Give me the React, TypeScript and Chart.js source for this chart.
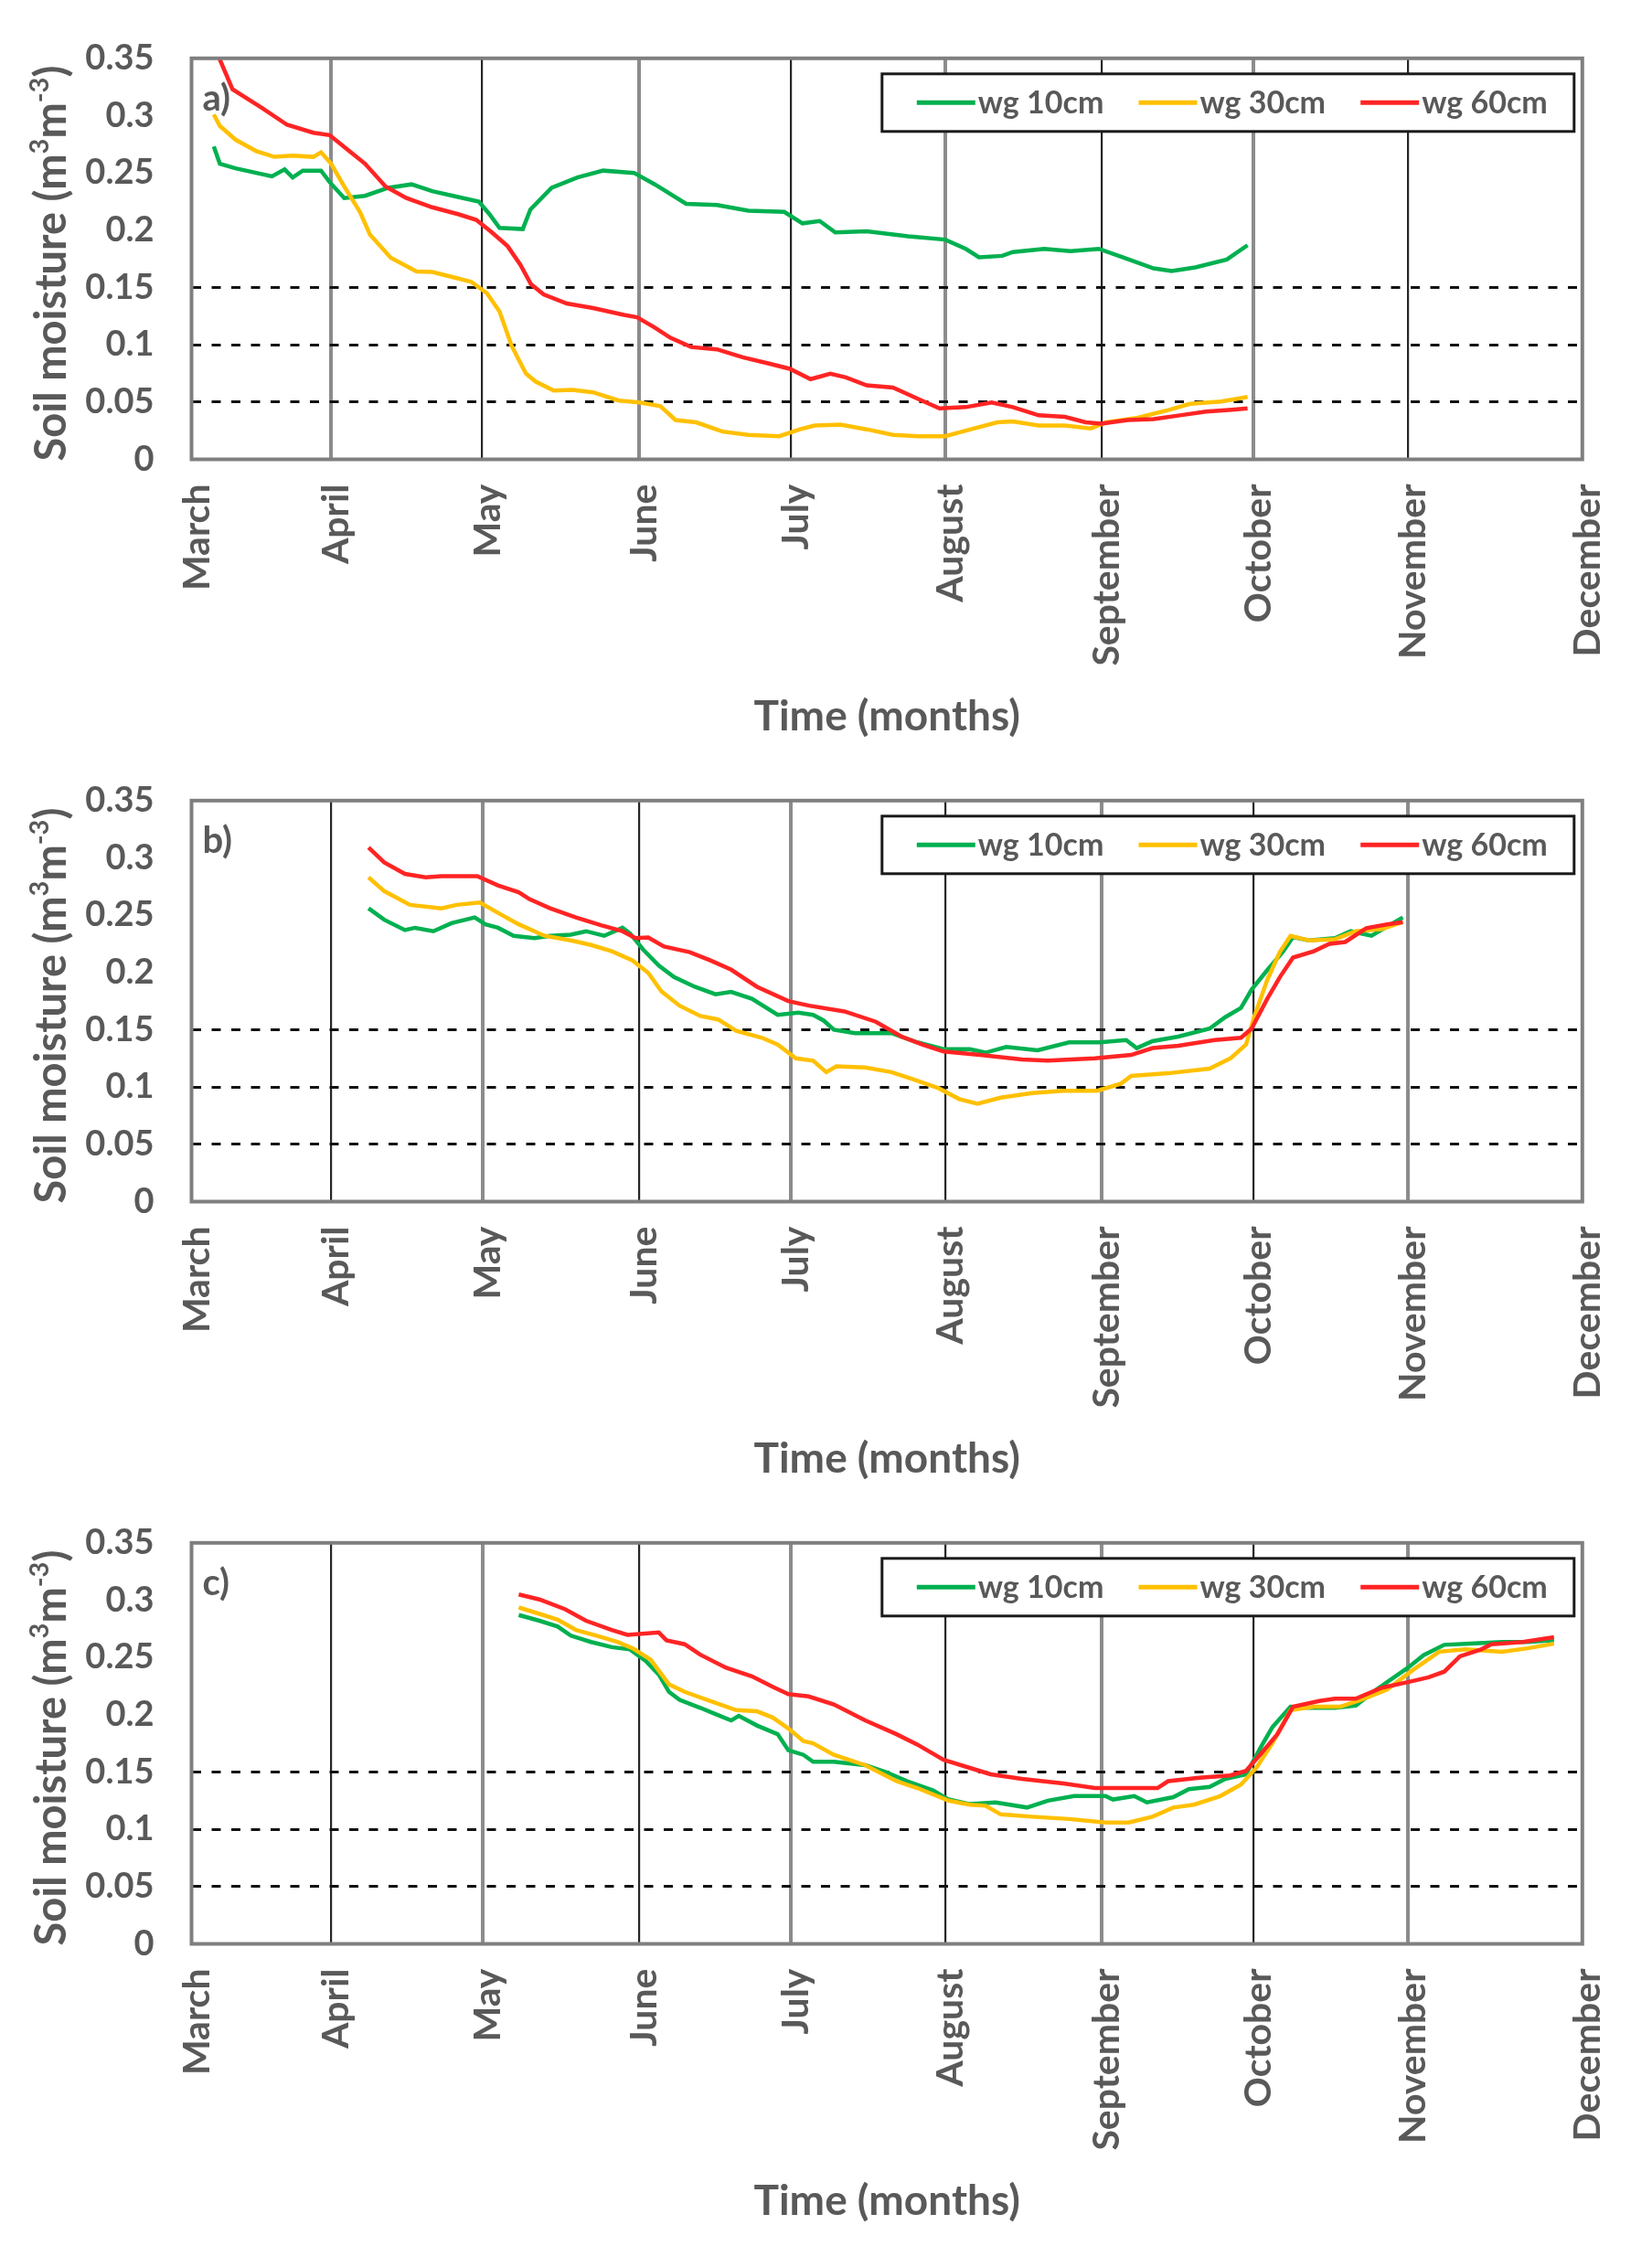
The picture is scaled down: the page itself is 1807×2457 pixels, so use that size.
import { useEffect, useRef } from "react"
import { Chart, registerables } from "chart.js"

Chart.register(...registerables)

if (typeof document !== "undefined") {
  document.body.style.margin = "0"
  document.body.style.background = "#ffffff"
}

const FONT = "Lato, 'Open Sans', sans-serif"
const TEXT_COLOR = "#595959"

const monthLabels = ["March", "April", "May", "June", "July", "August", "September", "October", "November", "December"]
// where each month gridline sits on the time axis (days counted from the March line)
const monthTicks = [0, 27.5, 57.5, 88.5, 118.5, 149, 180, 210, 240.5, 275]
const yTicks = [0, 0.05, 0.1, 0.15, 0.2, 0.25, 0.3, 0.35]
const dashedLevels = [0.05, 0.1, 0.15]

const seriesLabels = ["wg 10cm", "wg 30cm", "wg 60cm"]
const seriesColors = ["#00B050", "#FFC000", "#FF2424"]

// ---- panel a)
const aDays10 = [4.4, 5.6, 8.7, 15.9, 18.4, 20, 22, 25.6, 27.3, 30.2, 34.3, 38.9, 43.5, 47.6, 51.7, 56.8, 58.9, 60.9, 65.5, 67, 71.2, 76.3, 81.4, 87.5, 91.6, 97.8, 103.9, 110.1, 117.2, 120.8, 124.2, 127.3, 133.5, 141.7, 149, 153.1, 155.7, 160.3, 162.4, 168.6, 173.8, 179.4, 185.1, 190.2, 193.8, 198.5, 204.7, 208.8]
const aWg10 = [0.273, 0.258, 0.254, 0.247, 0.253, 0.246, 0.252, 0.252, 0.242, 0.228, 0.23, 0.237, 0.24, 0.234, 0.23, 0.225, 0.214, 0.202, 0.201, 0.218, 0.237, 0.246, 0.252, 0.25, 0.24, 0.223, 0.222, 0.217, 0.216, 0.206, 0.208, 0.198, 0.199, 0.1946, 0.1918, 0.1837, 0.1764, 0.1776, 0.1809, 0.1837, 0.1817, 0.1837, 0.1748, 0.1667, 0.1643, 0.1675, 0.1744, 0.1869]
const aDays30 = [4.4, 5.6, 8.7, 12.8, 16.4, 20, 24.1, 25.6, 27.6, 30.2, 33.3, 35.3, 39.4, 44.5, 47.6, 51.7, 55.3, 58.4, 60.9, 63.3, 66.1, 68, 71.6, 75.3, 79.4, 84.5, 88.6, 92.7, 95.7, 99.8, 105, 110.1, 116.2, 120.3, 123.2, 128.3, 133.5, 138.7, 143.8, 149, 154.1, 159.3, 162.4, 167.5, 172.7, 177.8, 180.9, 187.1, 193.3, 197.4, 203.6, 208.8]
const aWg30 = [0.301, 0.291, 0.279, 0.269, 0.264, 0.265, 0.264, 0.268, 0.258, 0.238, 0.216, 0.196, 0.176, 0.164, 0.1635, 0.159, 0.155, 0.145, 0.129, 0.099, 0.075, 0.068, 0.06, 0.0606, 0.0585, 0.0513, 0.0497, 0.0464, 0.0343, 0.0323, 0.0242, 0.0214, 0.0202, 0.0262, 0.0295, 0.0303, 0.0262, 0.0214, 0.0202, 0.0202, 0.0262, 0.0323, 0.0331, 0.0295, 0.0295, 0.027, 0.0323, 0.0363, 0.0432, 0.0484, 0.0505, 0.0545]
const aDays60 = [3.5, 5.5, 8.1, 13.8, 18.9, 24.1, 27.3, 31.2, 34.3, 38.4, 42.5, 47.6, 52.7, 56.3, 59.4, 62.5, 65, 67.1, 69.6, 74.2, 79.4, 85.5, 88.1, 91.6, 94.7, 98.8, 103.9, 109, 114.2, 118.3, 122.4, 126.3, 129.4, 133.5, 138.7, 143.8, 147.9, 153.1, 158.2, 162.4, 167.5, 172.7, 176.8, 179.9, 185.1, 190.2, 195.4, 200.6, 205.7, 208.8]
const aWg60 = [0.362, 0.35, 0.323, 0.307, 0.292, 0.285, 0.283, 0.269, 0.258, 0.238, 0.228, 0.22, 0.214, 0.209, 0.198, 0.186, 0.17, 0.153, 0.144, 0.136, 0.132, 0.126, 0.124, 0.115, 0.106, 0.098, 0.096, 0.089, 0.0836, 0.079, 0.07, 0.0747, 0.0715, 0.0646, 0.0626, 0.0525, 0.0444, 0.0456, 0.0497, 0.0456, 0.0384, 0.0371, 0.0323, 0.0311, 0.0343, 0.0351, 0.0384, 0.0416, 0.0432, 0.0444]

// ---- panel b)
const bDays10 = [35, 38.1, 42.2, 44.2, 47.8, 51.4, 56, 58.1, 60.6, 63.7, 67.8, 70.9, 75, 78, 81.6, 85.2, 86.7, 89.3, 92.4, 95.4, 99.5, 103.6, 106.7, 110.8, 115.9, 120, 122.9, 125, 127, 131.2, 138.4, 143.5, 148.7, 153.9, 157, 161.1, 167.3, 173.5, 179.6, 184.8, 186.9, 190, 195.1, 201.3, 204.4, 207.5, 209.6, 212.7, 215.8, 217.8, 220.9, 226.1, 229.2, 233.3, 236.4, 239.5]
const bWg10 = [0.256, 0.246, 0.237, 0.239, 0.236, 0.243, 0.248, 0.242, 0.239, 0.232, 0.23, 0.232, 0.233, 0.236, 0.232, 0.239, 0.234, 0.22, 0.206, 0.196, 0.1875, 0.181, 0.183, 0.177, 0.163, 0.165, 0.163, 0.158, 0.15, 0.147, 0.147, 0.139, 0.133, 0.133, 0.13, 0.135, 0.132, 0.139, 0.139, 0.141, 0.134, 0.14, 0.144, 0.151, 0.161, 0.169, 0.185, 0.202, 0.218, 0.231, 0.228, 0.23, 0.236, 0.232, 0.24, 0.248]
const bDays30 = [35, 38.1, 43.2, 49.4, 52.4, 57, 60.6, 64.7, 69.8, 75, 79, 83.1, 87.2, 90.3, 92.9, 96.5, 100.6, 104.1, 107.7, 112.8, 115.9, 119.5, 122.9, 125.5, 127.5, 133.2, 138.4, 142.5, 147.7, 151.8, 155.4, 160, 166.2, 172.4, 179.1, 183.8, 185.8, 193.1, 201.3, 205.4, 208.5, 210.1, 212.7, 215.2, 217.3, 220.9, 226.1, 230.2, 235.4, 239.5]
const bWg30 = [0.283, 0.271, 0.259, 0.256, 0.259, 0.261, 0.252, 0.242, 0.232, 0.228, 0.224, 0.2185, 0.2105, 0.1996, 0.1835, 0.171, 0.162, 0.159, 0.149, 0.143, 0.137, 0.125, 0.123, 0.113, 0.118, 0.117, 0.113, 0.107, 0.099, 0.0895, 0.0855, 0.0907, 0.0948, 0.0968, 0.0968, 0.103, 0.1097, 0.112, 0.116, 0.125, 0.137, 0.161, 0.1935, 0.218, 0.232, 0.228, 0.229, 0.236, 0.238, 0.244]
const bDays60 = [35, 38.1, 42.2, 46.3, 49.4, 56.5, 60.6, 64.7, 66.8, 70.9, 76, 81.1, 85.2, 87.8, 90.3, 93.4, 98.5, 102.6, 106.7, 111.8, 118, 122.1, 129.1, 135.3, 140.4, 144.6, 148.7, 155.9, 164.2, 169.3, 178.6, 185.8, 190, 195.1, 202.3, 207.5, 209.6, 212.7, 215.2, 217.8, 221.9, 225, 228.1, 232.3, 236.4, 239.5]
const bWg60 = [0.309, 0.296, 0.286, 0.283, 0.284, 0.284, 0.276, 0.27, 0.264, 0.256, 0.248, 0.241, 0.236, 0.23, 0.2306, 0.2226, 0.2177, 0.2105, 0.2024, 0.1875, 0.175, 0.171, 0.166, 0.157, 0.144, 0.137, 0.131, 0.128, 0.124, 0.123, 0.125, 0.128, 0.134, 0.136, 0.141, 0.143, 0.151, 0.177, 0.196, 0.213, 0.2185, 0.225, 0.2266, 0.2387, 0.242, 0.244]

// ---- panel c)
const cDays10 = [64.7, 68.8, 72.4, 75, 79, 83.1, 86.7, 89.8, 92.4, 94.4, 96.5, 100.6, 103.6, 106.7, 108.2, 111.8, 115.9, 118, 121, 122.9, 127, 133.2, 137.3, 141.5, 146.6, 149.7, 153.9, 159, 165.2, 169.3, 174.5, 180.7, 182.2, 186.4, 188.9, 194.1, 197.2, 201.3, 204.4, 208.5, 211.6, 213.7, 217.3, 220.9, 226.1, 230.2, 234.3, 240.5, 243.6, 247.7, 252.9, 259.1, 264.2, 269.4]
const cWg10 = [0.287, 0.282, 0.277, 0.269, 0.2635, 0.259, 0.257, 0.247, 0.235, 0.22, 0.213, 0.206, 0.2005, 0.195, 0.199, 0.1906, 0.183, 0.169, 0.165, 0.159, 0.159, 0.156, 0.15, 0.142, 0.134, 0.126, 0.122, 0.1235, 0.119, 0.125, 0.129, 0.129, 0.126, 0.129, 0.1235, 0.128, 0.135, 0.137, 0.144, 0.148, 0.173, 0.189, 0.207, 0.206, 0.206, 0.208, 0.222, 0.241, 0.252, 0.261, 0.262, 0.2635, 0.2635, 0.265]
const cDays30 = [64.7, 68.8, 72.4, 76, 80.1, 84.2, 87.2, 90.8, 94.4, 97.5, 102.6, 107.7, 111.8, 114.9, 118, 121, 122.9, 127, 133.2, 139.4, 143.5, 149.7, 153.9, 157, 160, 166.2, 173.5, 180.7, 185.3, 190, 194.1, 198.2, 203.4, 207.5, 210.6, 213.7, 217.3, 221.9, 227.1, 231.2, 236.4, 241.5, 246.7, 251.9, 259.1, 264.2, 269.4]
const cWg30 = [0.2936, 0.288, 0.283, 0.274, 0.269, 0.2635, 0.258, 0.248, 0.2265, 0.22, 0.212, 0.204, 0.203, 0.1976, 0.188, 0.177, 0.175, 0.165, 0.156, 0.142, 0.136, 0.125, 0.1215, 0.1206, 0.113, 0.111, 0.109, 0.106, 0.106, 0.111, 0.119, 0.1215, 0.129, 0.139, 0.154, 0.175, 0.204, 0.207, 0.207, 0.213, 0.222, 0.239, 0.255, 0.257, 0.255, 0.258, 0.262]
const cDays60 = [64.7, 68.8, 73.9, 78, 83.1, 86.2, 92.4, 93.9, 97.5, 100.6, 105.7, 110.8, 114.9, 118, 122, 127, 133.2, 139.4, 143.5, 148.7, 153.9, 158, 164.2, 172.4, 178.6, 184.8, 191, 193.1, 199.3, 205.4, 208.5, 211.6, 214.7, 217.8, 223, 226.1, 230.2, 235.4, 240.5, 244.6, 247.7, 250.8, 255, 257, 263.2, 269.4]
const cWg60 = [0.305, 0.3006, 0.292, 0.282, 0.274, 0.2697, 0.2718, 0.265, 0.2615, 0.2524, 0.241, 0.2335, 0.2244, 0.218, 0.216, 0.209, 0.195, 0.183, 0.174, 0.1606, 0.1536, 0.148, 0.144, 0.14, 0.136, 0.136, 0.136, 0.142, 0.145, 0.147, 0.151, 0.1668, 0.183, 0.207, 0.212, 0.214, 0.214, 0.2236, 0.2285, 0.2326, 0.2376, 0.251, 0.257, 0.2615, 0.2635, 0.2676]

const PANEL_H = 812

interface PanelProps {
  letter: string
  top: number
  days: number[][]
  values: number[][]
  grayOnOdd: boolean // which month lines come out as thick grey ones
}

function Panel({ letter, top, days, values, grayOnOdd }: PanelProps) {
  const canvasRef = useRef<HTMLCanvasElement>(null)

  useEffect(() => {
    if (!canvasRef.current) return

    const decorations = {
      id: "decorations",
      afterDatasetsDraw(chart: Chart) {
        const { ctx, chartArea } = chart
        const { left, top, right, bottom } = chartArea
        ctx.save()
        ctx.strokeStyle = "#7f7f7f"
        ctx.lineWidth = 4
        ctx.strokeRect(left, top, right - left, bottom - top)
        ctx.restore()
      },
      afterDraw(chart: Chart) {
        const { ctx, chartArea } = chart
        const { left, top, right, bottom } = chartArea
        ctx.save()

        // panel letter
        ctx.fillStyle = TEXT_COLOR
        ctx.font = `bold 40px ${FONT}`
        ctx.textAlign = "left"
        ctx.textBaseline = "middle"
        ctx.fillText(letter, left + 12, top + 44)

        // legend box
        const bw = 757
        const bh = 63
        const bx = right - 9 - bw
        const by = top + 17
        ctx.fillStyle = "#ffffff"
        ctx.fillRect(bx, by, bw, bh)
        ctx.strokeStyle = "#1a1a1a"
        ctx.lineWidth = 3
        ctx.strokeRect(bx, by, bw, bh)
        chart.data.datasets.forEach((ds: any, i: number) => {
          const x0 = bx + 38 + i * 242.7
          const cy = by + bh / 2
          ctx.strokeStyle = ds.borderColor
          ctx.lineWidth = 5
          ctx.beginPath()
          ctx.moveTo(x0, cy)
          ctx.lineTo(x0 + 64, cy)
          ctx.stroke()
          ctx.fillStyle = TEXT_COLOR
          ctx.font = `bold 34px ${FONT}`
          ctx.textBaseline = "middle"
          ctx.fillText(ds.label, x0 + 67, cy + 1)
        })

        // y axis title with real superscripts
        const parts: [string, boolean][] = [
          ["Soil moisture (m", false],
          ["3", true],
          ["m", false],
          ["-3", true],
          [")", false],
        ]
        const mainFont = `bold 47px ${FONT}`
        const supFont = `bold 29px ${FONT}`
        let total = 0
        parts.forEach(([t, sup]) => {
          ctx.font = sup ? supFont : mainFont
          total += ctx.measureText(t).width
        })
        ctx.translate(56, (top + bottom) / 2 + 5)
        ctx.rotate(-Math.PI / 2)
        ctx.textAlign = "left"
        ctx.textBaseline = "alphabetic"
        ctx.fillStyle = TEXT_COLOR
        let x = -total / 2
        parts.forEach(([t, sup]) => {
          ctx.font = sup ? supFont : mainFont
          ctx.fillText(t, x, sup ? -3 : 16)
          x += ctx.measureText(t).width
        })
        ctx.restore()
      },
    }

    const chart = new Chart(canvasRef.current, {
      type: "line",
      data: {
        datasets: seriesLabels.map((label, i) => ({
          label,
          data: days[i].map((d, j) => ({ x: d, y: values[i][j] })),
          borderColor: seriesColors[i],
          backgroundColor: seriesColors[i],
          borderWidth: 4.5,
          pointRadius: 0,
          tension: 0,
          fill: false,
          order: 3 - i,
        })),
      },
      options: {
        responsive: true,
        maintainAspectRatio: false,
        animation: false,
        events: [],
        layout: { padding: { left: 0, top: 60, right: 57, bottom: 0 } },
        scales: {
          x: {
            type: "linear",
            min: monthTicks[0],
            max: monthTicks[monthTicks.length - 1],
            afterBuildTicks: (scale: any) => {
              scale.ticks = monthTicks.map((v) => ({ value: v }))
            },
            afterFit: (scale: any) => {
              scale.height = PANEL_H - 502.5
            },
            ticks: {
              autoSkip: false,
              minRotation: 90,
              maxRotation: 90,
              padding: 27,
              labelOffset: 6,
              color: TEXT_COLOR,
              font: { family: FONT, size: 41, weight: "bold" },
              callback: (_v: any, index: number) => monthLabels[index],
            },
            grid: {
              drawTicks: false,
              color: (ctx: any) => {
                const i = ctx.index
                if (i === 0 || i === monthTicks.length - 1) return "rgba(0,0,0,0)"
                const gray = grayOnOdd ? i % 2 === 1 : i % 2 === 0
                return gray ? "#8c8c8c" : "#262626"
              },
              lineWidth: (ctx: any) => {
                const i = ctx.index
                const gray = grayOnOdd ? i % 2 === 1 : i % 2 === 0
                return gray ? 4 : 2.2
              },
            },
            border: { display: false },
            title: {
              display: true,
              text: "Time (months)",
              color: TEXT_COLOR,
              font: { family: FONT, size: 46, weight: "bold" },
              padding: { top: 12, bottom: 0 },
            },
          },
          y: {
            min: 0,
            max: 0.35,
            afterBuildTicks: (scale: any) => {
              scale.ticks = yTicks.map((v) => ({ value: v }))
            },
            afterFit: (scale: any) => {
              scale.width = 209.5
            },
            ticks: {
              padding: 41,
              color: TEXT_COLOR,
              font: { family: FONT, size: 38, weight: "bold" },
              callback: (v: any) => String(+Number(v).toFixed(2)),
            },
            grid: {
              drawTicks: false,
              lineWidth: 3,
              color: (ctx: any) => {
                const v = ctx.tick ? Math.round(ctx.tick.value * 100) : -1
                return dashedLevels.some((d) => Math.round(d * 100) === v) ? "#111111" : "rgba(0,0,0,0)"
              },
            },
            border: { display: false, dash: [10, 11.5] },
          },
        },
        plugins: {
          legend: { display: false },
          tooltip: { enabled: false },
        },
      } as any,
      plugins: [decorations],
    })

    return () => {
      chart.destroy()
    }
  }, [letter, days, values, grayOnOdd])

  return (
    <div style={{ position: "absolute", left: 0, top, width: 1807, height: PANEL_H }}>
      <canvas ref={canvasRef} />
    </div>
  )
}

export default function App() {
  return (
    <div style={{ position: "relative", width: 1807, height: 2457, background: "#ffffff" }}>
      <Panel letter="a)" top={0} days={[aDays10, aDays30, aDays60]} values={[aWg10, aWg30, aWg60]} grayOnOdd={true} />
      <Panel letter="b)" top={PANEL_H} days={[bDays10, bDays30, bDays60]} values={[bWg10, bWg30, bWg60]} grayOnOdd={false} />
      <Panel letter="c)" top={PANEL_H * 2} days={[cDays10, cDays30, cDays60]} values={[cWg10, cWg30, cWg60]} grayOnOdd={false} />
    </div>
  )
}
